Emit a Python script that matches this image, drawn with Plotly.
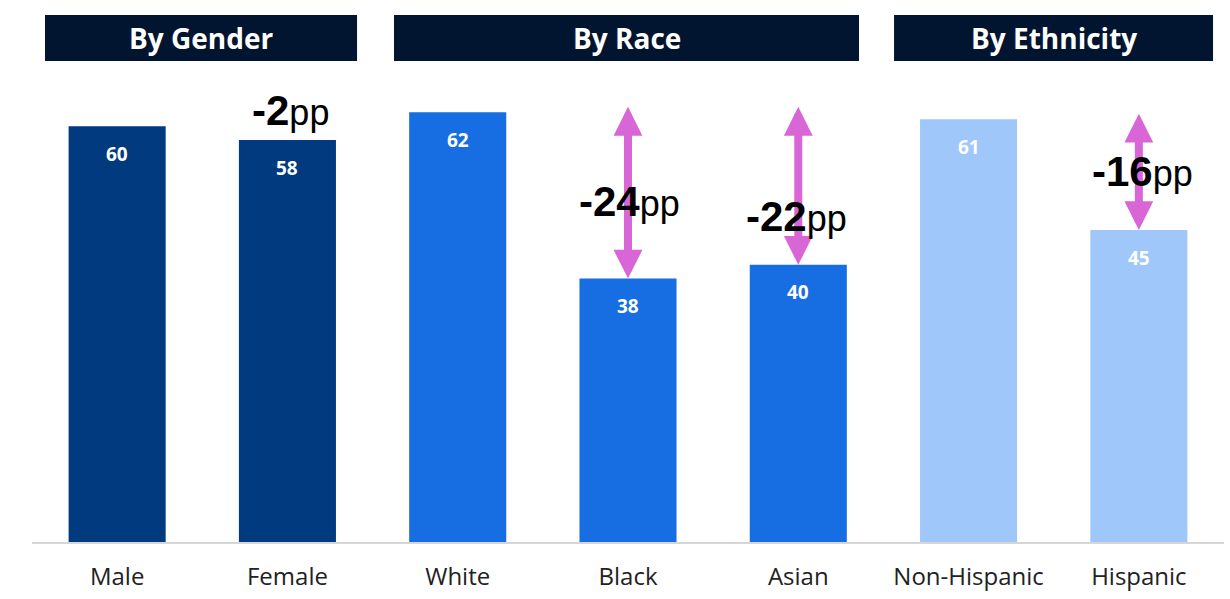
import plotly.graph_objects as go

categories = ["Male", "Female", "White", "Black", "Asian", "Non-Hispanic", "Hispanic"]
values = [60, 58, 62, 38, 40, 61, 45]
groups = ["By Gender", "By Gender", "By Race", "By Race", "By Race", "By Ethnicity", "By Ethnicity"]
group_titles = ["By Gender", "By Race", "By Ethnicity"]
# reference category index for gap annotations (None = no annotation)
reference_index = [None, 0, None, 2, 2, None, 5]
show_arrow = [False, False, False, True, True, False, True]

group_colors = {"By Gender": "#013a7e", "By Race": "#176de2", "By Ethnicity": "#9fc7fa"}
# header boxes in paper coords (x0, x1)
header_x = {"By Gender": (0.0109, 0.2727), "By Race": (0.3037, 0.6938), "By Ethnicity": (0.7232, 0.9908)}
# vertical position of gap labels (data units) and x offset
gap_label_y = [None, 62.3, None, 49.1, 46.9, None, 53.5]
gap_label_dx = [0, 0.02, 0, 0.01, -0.01, 0, 0.02]

SCALE_TOP = 78.2
ARROW_COLOR = "#d966d6"

x_idx = list(range(len(categories)))
bar_colors = [group_colors[g] for g in groups]

fig = go.Figure()
fig.add_trace(go.Bar(
    x=x_idx, y=values, marker=dict(color=bar_colors, line=dict(width=0)),
    width=0.57, hoverinfo="skip", showlegend=False,
))

annotations = []
shapes = []

# value labels inside bars
for i, v in enumerate(values):
    annotations.append(dict(
        x=i, y=v - 4.0, xref="x", yref="y", text=f"<b>{v}</b>", showarrow=False,
        xanchor="center", yanchor="middle",
        font=dict(family="Open Sans", size=19, color="white"),
    ))

# arrows
for i, v in enumerate(values):
    r = reference_index[i]
    if r is None or not show_arrow[i]:
        continue
    annotations.append(dict(
        x=i, y=v, xref="x", yref="y", ax=i, ay=values[r] + 1, axref="x", ayref="y",
        showarrow=True, arrowhead=2, startarrowhead=2, arrowside="end+start",
        arrowsize=0.72, startarrowsize=0.72, arrowwidth=8, arrowcolor=ARROW_COLOR,
        standoff=0, startstandoff=0, text="",
    ))

# gap labels
for i, v in enumerate(values):
    r = reference_index[i]
    if r is None:
        continue
    d = v - values[r]
    annotations.append(dict(
        x=i + gap_label_dx[i], y=gap_label_y[i], xref="x", yref="y", showarrow=False,
        xanchor="center", yanchor="middle",
        text=f"<b>{d}</b><span style='font-size:36px;font-weight:normal'>pp</span>",
        font=dict(family="Liberation Sans", size=42, color="black"),
    ))

# headers
for g in group_titles:
    x0, x1 = header_x[g]
    shapes.append(dict(type="rect", xref="paper", yref="paper", x0=x0, x1=x1,
                       y0=0.8875, y1=0.9723, fillcolor="#011530", line=dict(width=0), layer="above"))
    annotations.append(dict(
        x=(x0 + x1) / 2, y=(0.8875 + 0.9723) / 2, xref="paper", yref="paper",
        xanchor="center", yanchor="middle",
        text=f"<b>{g}</b>", showarrow=False,
        font=dict(family="Open Sans", size=28, color="white"),
    ))

fig.update_layout(
    width=1230, height=599,
    margin=dict(l=32, r=6, t=0, b=57),
    plot_bgcolor="white", paper_bgcolor="white",
    annotations=annotations, shapes=shapes,
    xaxis=dict(
        tickmode="array", tickvals=x_idx, ticktext=categories,
        range=[-0.5, len(categories) - 0.5], showgrid=False, zeroline=False,
        showline=True, linecolor="#d6d6d6", linewidth=2,
        tickfont=dict(family="Open Sans", size=24, color="#222222"),
        ticks="", ticklabelstandoff=12, fixedrange=True,
    ),
    yaxis=dict(range=[0, SCALE_TOP], visible=False, showgrid=False, zeroline=False, fixedrange=True),
)

fig.write_html("out.html", config={"displayModeBar": False},
               post_script="document.body.style.margin='0px';")
